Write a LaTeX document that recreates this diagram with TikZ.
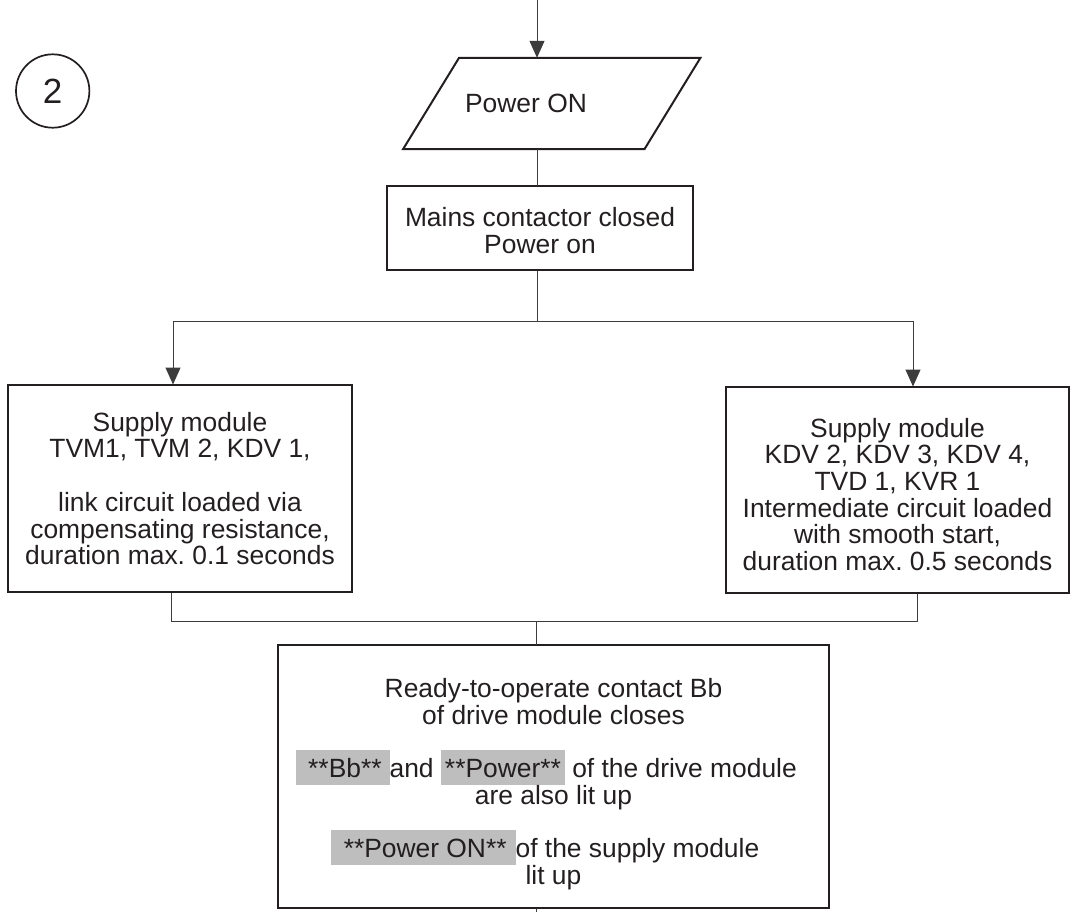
\documentclass[tikz,border=0pt]{standalone}
\usepackage{fontspec}
\setmainfont{Liberation Sans}
\usepackage{xcolor}
\definecolor{ink}{RGB}{35, 31, 32}
\definecolor{wireGray}{RGB}{60, 60, 60}
\definecolor{hlGray}{RGB}{190, 190, 190}
\usetikzlibrary{arrows.meta, calc}
\newcommand{\hl}[1]{\smash{{\setlength{\fboxsep}{0pt}\colorbox{hlGray}{\rule[-7.5pt]{0pt}{35pt}#1}}}}

\begin{document}
\frenchspacing
\begin{tikzpicture}[
    x=1pt, y=-1pt, transform shape, scale=0.5,
    every node/.style={font=\fontsize{26.4}{26.7}\selectfont, text=ink},
    box/.style={
        rectangle, draw=ink, line width=1pt, align=center, inner sep=0pt
    },
    arr/.style={-{Triangle[length=8.5pt, width=7.5pt]}, wireGray, line width=0.5pt},
    wire/.style={wireGray, line width=0.5pt}
]
\useasboundingbox (0,0) rectangle (1071,912);

%% ---- Step number ----
\node[circle, draw=ink, line width=0.85pt, minimum size=73.4, inner sep=0pt,
      font=\fontsize{35}{40}\selectfont] (stepno) at (52.7,91) {2};

%% ---- Flow nodes ----
\node[rectangle, minimum width=241, minimum height=91, inner sep=0pt] (pon) at (551.75,103.5) {Power ON\hspace*{51.5pt}};
\draw[ink, line width=1pt] ($(pon.north west)+(28,0)$) -- ($(pon.north east)+(28,0)$)
    -- ($(pon.south east)+(-28,0)$) -- ($(pon.south west)+(-28,0)$) -- cycle;
\node[box, minimum width=306, minimum height=84] (mains) at (540,228)
    {\rule{0pt}{24pt}Mains contactor closed\\Power on};
\node[box, minimum width=344, minimum height=207] (lbox) at (180,488.5)
    {Supply module\\TVM1, TVM 2, KDV 1,\\[26.7pt]link circuit loaded via\\compensating resistance,\\duration max. 0.1 seconds};
\node[box, minimum width=343, minimum height=206] (rbox) at (897.5,490)
    {\rule{0pt}{28pt}Supply module\\KDV 2, KDV 3, KDV 4,\\TVD 1, KVR 1\\Intermediate circuit loaded\\with smooth start,\\duration max. 0.5 seconds};
\node[box, minimum width=551, minimum height=263] (ready) at (553.5,776.5)
    {\rule{0pt}{34pt}Ready-to-operate contact Bb\\of drive module closes\\[26.7pt]
     \hl{\hspace{12pt}**Bb**\hspace{8pt}}and \hl{\hspace{4pt}**Power**\hspace{4pt}} of the drive module\kern14pt\\are also lit up\\[26.7pt]
     \hl{\hspace{13pt}**Power ON**\hspace{9pt}}of the supply module\kern17pt\\lit up};

%% ---- Branch points ----
\coordinate (spine) at (537,0);
\coordinate (split) at (537,321);
\coordinate (la) at (173,321);
\coordinate (ra) at (913,321);
\coordinate (lb) at (171,621);
\coordinate (rb) at (917,621);
\coordinate (join) at (536,621);
\coordinate (exit) at (536,912);

%% ---- Connectors ----
\draw[arr]  (spine) -- (spine |- pon.north);
\draw[wire] (spine |- pon.south) -- (spine |- mains.north);
\draw[wire] (spine |- mains.south) -- (split);
\draw[wire] (la) -- (ra);
\draw[arr]  (la) -- (la |- lbox.north);
\draw[arr]  (ra) -- (ra |- rbox.north);
\draw[wire] (lb |- lbox.south) -- (lb) -- (rb) -- (rb |- rbox.south);
\draw[wire] (join) -- (join |- ready.north);
\draw[wire] (join |- ready.south) -- (exit);

\end{tikzpicture}
\end{document}
